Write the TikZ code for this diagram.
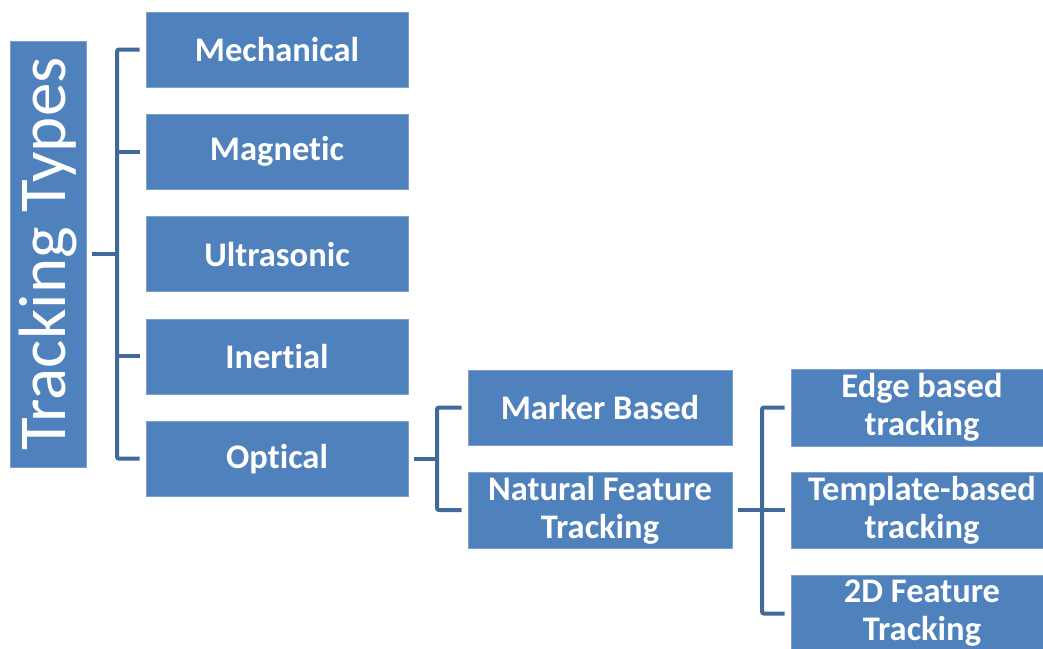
\documentclass[tikz,border=0pt]{standalone}
\usepackage{fontspec}
\setmainfont{Carlito}[RawFeature=-liga]
\begin{document}
\begin{tikzpicture}[x=1pt, y=-1pt]
  % Colors
  \definecolor{boxcol}{RGB}{79,129,189}
  \definecolor{edgecol}{RGB}{125,160,205}
  \definecolor{linecol}{RGB}{65,105,155}
  %
  \def\bw{262pt}
  \def\bh{75pt}
  %
  \tikzset{
    kbox/.style={draw=edgecol, line width=0.8pt, fill=boxcol, minimum width=\bw,
                 minimum height=\bh, inner sep=0pt, align=center, text=white,
                 font=\fontsize{34.5}{38}\selectfont\bfseries},
    rbox/.style={draw=edgecol, line width=0.8pt, fill=boxcol, minimum width=426pt,
                 minimum height=76pt, inner sep=0pt, rotate=90, text=white,
                 font=\fontsize{67}{72}\selectfont},
    conn/.style={draw=linecol, line width=4pt, rounded corners=2pt},
  }
  \useasboundingbox (0,0) rectangle (1043,648);
  %
  %%% ROOT %%%
  \node[rbox] (root) at (48, 254) {Tracking Types};
  %
  %%% FIRST LEVEL %%%
  \foreach \n/\nm/\txt in {0/mech/Mechanical, 1/magn/Magnetic, 2/ultra/Ultrasonic,
                           3/inert/Inertial, 4/optic/Optical} {
    \node[kbox] (\nm) at (277, {49.5+\n*102.3}) {\txt};
  }
  %
  %%% SECOND LEVEL %%%
  \node[kbox, minimum width=264pt] (marker) at (600, 407.5) {Marker Based};
  \node[kbox, minimum width=264pt, minimum height=76pt] (natural) at (600, 510) {Natural Feature\\Tracking};
  %
  %%% THIRD LEVEL %%%
  \node[kbox, minimum height=77pt] (edge) at (922, 407.5) {Edge based\\tracking};
  \node[kbox, minimum height=76pt] (templ) at (922, 510) {Template-based\\tracking};
  \node[kbox, minimum height=77pt] (feat2d) at (922, 613.5) {2D Feature\\Tracking};
  %
  %%% CONNECTORS %%%
  % root -> first level
  \coordinate (tA) at (117, 0);
  \draw[conn] ([xshift=6pt]root.south) -- (tA |- root.south);
  \draw[conn] ([xshift=-6pt]mech.west) -- (tA |- mech) -- (tA |- optic) -- ([xshift=-6pt]optic.west);
  \foreach \nm in {magn, inert} {
    \draw[conn] (tA |- \nm) -- ([xshift=-6pt]\nm.west);
  }
  %
  % optical -> second level
  \coordinate (tB) at (437, 0);
  \draw[conn] ([xshift=6pt]optic.east) -- (tB |- optic);
  \draw[conn] ([xshift=-6pt]marker.west) -- (tB |- marker) -- (tB |- natural) -- ([xshift=-6pt]natural.west);
  %
  % natural feature -> third level
  \coordinate (tC) at (762, 0);
  \draw[conn] ([xshift=6pt]natural.east) -- (tC |- natural);
  \draw[conn] ([xshift=-6pt]edge.west) -- (tC |- edge) -- (tC |- feat2d) -- ([xshift=-6pt]feat2d.west);
  \draw[conn] (tC |- templ) -- ([xshift=-6pt]templ.west);
\end{tikzpicture}
\end{document}
